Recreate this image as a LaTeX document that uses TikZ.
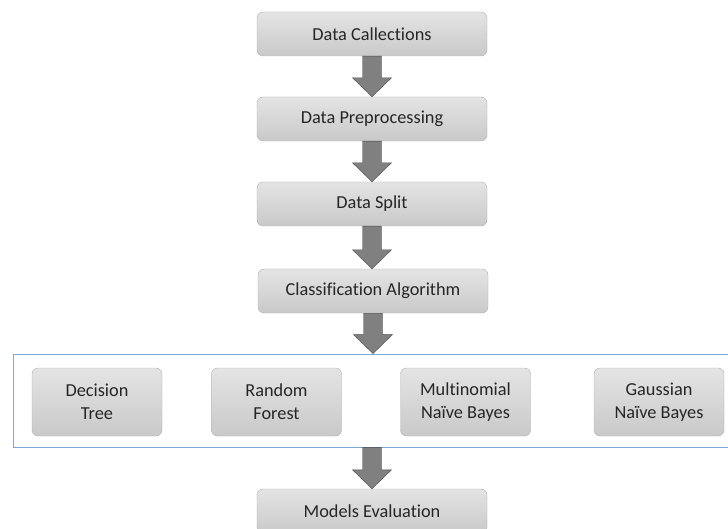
\documentclass[tikz,border=0pt]{standalone}
\usepackage{fontspec}
\setmainfont{Carlito}[Ligatures=NoCommon]
\usetikzlibrary{calc}

\definecolor{frameblue}{HTML}{7BA7DC}
\definecolor{boxline}{HTML}{AFAFAF}
\definecolor{boxtop}{HTML}{E4E4E4}
\definecolor{boxbottom}{HTML}{C9C9C9}
\definecolor{arrowfill}{HTML}{808080}

\tikzset{
    stage/.style={draw=boxline, rounded corners=6pt, top color=boxtop, bottom color=boxbottom,
        minimum width=230, minimum height=44, inner sep=0pt, text=black!85,
        font=\fontsize{18.3}{21}\selectfont},
    model/.style={stage, minimum width=130, minimum height=68, align=center,
        font=\fontsize{18.3}{23}\selectfont},
    fatarrow/.style={draw=black!70, fill=arrowfill, line join=miter,
        to path={let \p1=(\tikztostart), \p2=(\tikztotarget) in
            (\x1-9.5pt,\y1) -- (\x1+9.5pt,\y1) -- (\x1+9.5pt,\y2+19pt)
            -- (\x1+19.5pt,\y2+19pt) -- (\x1,\y2) -- (\x1-19.5pt,\y2+19pt)
            -- (\x1-9.5pt,\y2+19pt) -- cycle}}
}

\begin{document}
\begin{tikzpicture}[x=1pt, y=-1pt]
    \clip (0,0) rectangle (728,529);

    % Define nodes
    \node[stage] (collect) at (372,34) {Data Callections};
    \node[stage] (prep) at (372,119) {Data Preprocessing};
    \node[stage] (split) at (372,204) {Data Split};
    \node[stage] (algo) at (373,291) {Classification Algorithm};

    % Frame around the models
    \node[draw=frameblue, thick, minimum width=730, minimum height=93, inner sep=0pt] (models) at (378,400.5) {};
    \node[model] (dtree) at (97,402) {Decision\\Tree};
    \node[model] (rforest) at (276.5,402) {Random\\Forest};
    \node[model] (mnb) at (465.5,402) {Multinomial\\Naïve Bayes};
    \node[model] (gnb) at (659,402) {Gaussian\\Naïve Bayes};

    \node[stage] (eval) at (372,511) {Models Evaluation};

    % Block arrows
    \draw[fatarrow] (collect.south) to (prep.north);
    \draw[fatarrow] (prep.south) to (split.north);
    \draw[fatarrow] (split.south) to (algo.north);
    \draw[fatarrow] (algo.south) to (algo.south |- models.north);
    \draw[fatarrow] (eval.north |- models.south) to (eval.north);
\end{tikzpicture}
\end{document}
